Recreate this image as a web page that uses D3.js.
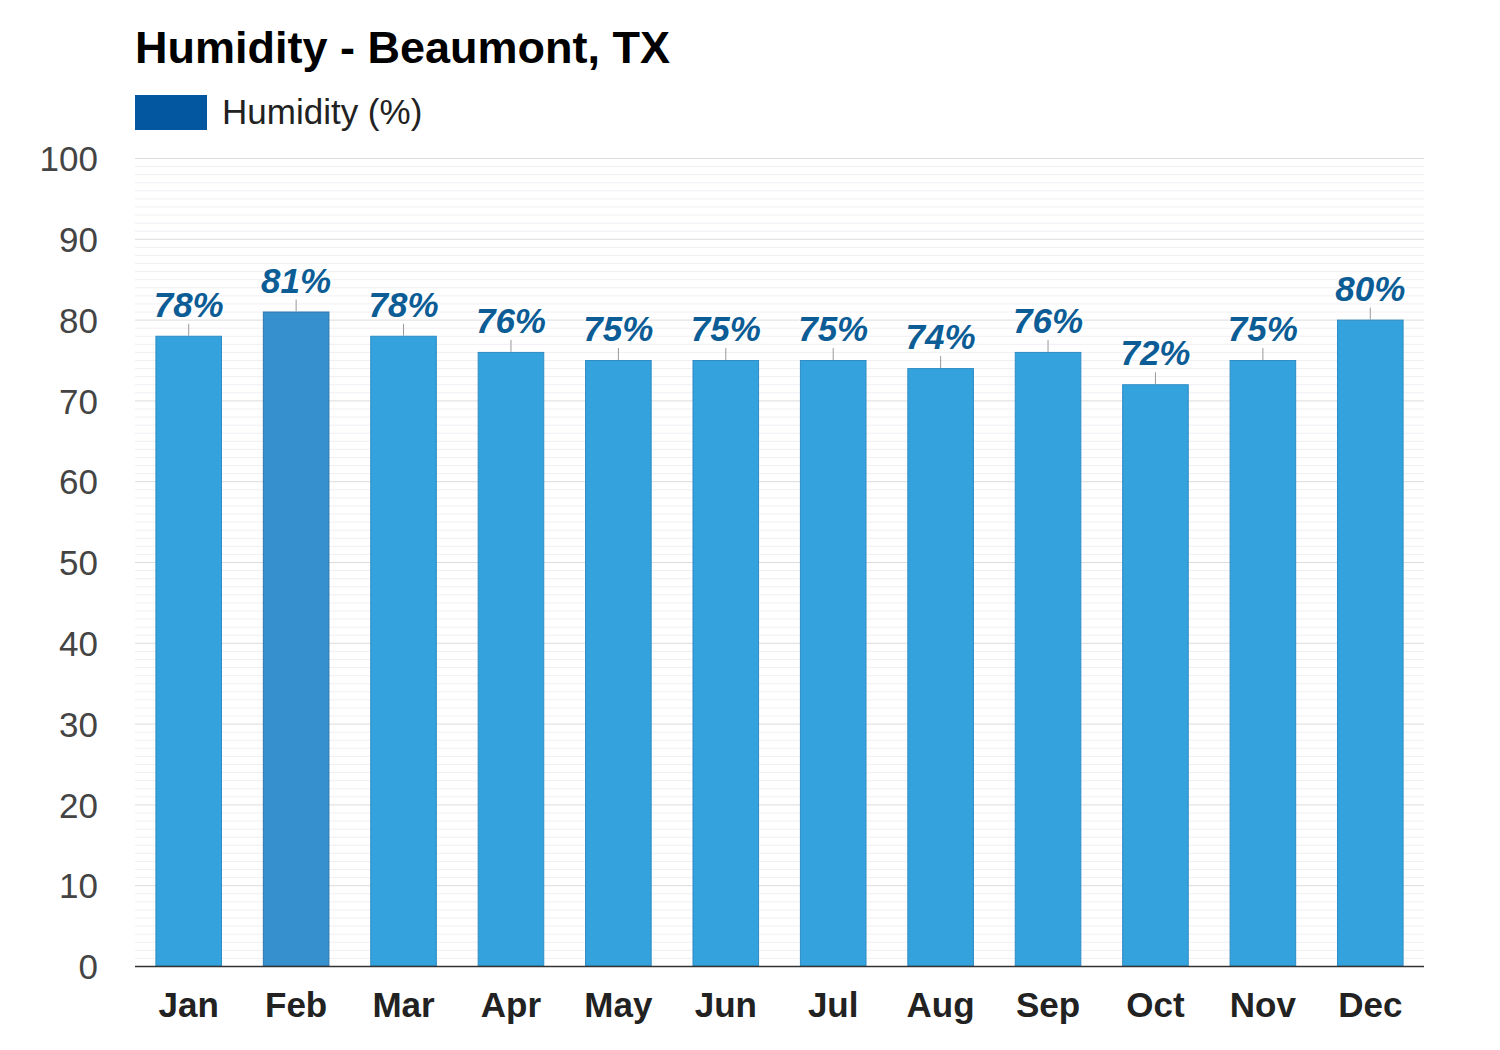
<!DOCTYPE html>
<html>
<head>
<meta charset="utf-8">
<script src="https://cdn.jsdelivr.net/npm/d3@7"></script>
<style>
  body { margin: 0; background: #fff; }
  svg { font-family: "Liberation Sans", Arial, sans-serif; }
</style>
</head>
<body>
<div id="chart"></div>
<script>
// chart data
var months = ["Jan", "Feb", "Mar", "Apr", "May", "Jun", "Jul", "Aug", "Sep", "Oct", "Nov", "Dec"];
var humidity = [78, 81, 78, 76, 75, 75, 75, 74, 76, 72, 75, 80];
var yTicks = [0, 10, 20, 30, 40, 50, 60, 70, 80, 90, 100];
var highlighted = "Feb";

var W = 1500, H = 1050;
var margin = {left: 135, right: 76, top: 158, bottom: 84};

var svg = d3.select("#chart").append("svg")
    .attr("width", W).attr("height", H);

var x = d3.scaleBand().domain(months)
    .range([margin.left, W - margin.right])
    .paddingInner(0.38).paddingOuter(0.19);
var y = d3.scaleLinear().domain([0, 100])
    .range([H - margin.bottom, margin.top]);

// minor grid, one line per unit
svg.append("g").selectAll("line")
    .data(d3.range(1, 101).filter(function(v){ return v % 10 != 0; }))
    .join("line")
    .attr("x1", margin.left).attr("x2", W - margin.right)
    .attr("y1", function(d){ return y(d) + 0.5; })
    .attr("y2", function(d){ return y(d) + 0.5; })
    .attr("stroke", "#f1eef4").attr("stroke-width", 1);

// major grid
svg.append("g").selectAll("line")
    .data(yTicks.slice(1))
    .join("line")
    .attr("x1", margin.left).attr("x2", W - margin.right)
    .attr("y1", function(d){ return y(d) + 0.5; })
    .attr("y2", function(d){ return y(d) + 0.5; })
    .attr("stroke", "#dcdcdc").attr("stroke-width", 1);

// y axis labels
var yAxis = svg.append("g")
    .attr("transform", "translate(" + margin.left + ",0)")
    .call(d3.axisLeft(y).tickValues(yTicks).tickSize(0).tickPadding(37));
yAxis.select(".domain").remove();
yAxis.selectAll("text")
    .attr("font-size", 35).attr("fill", "#444")
    .attr("font-family", "Liberation Sans, Arial, sans-serif")
    .attr("dy", "0.36em");

// bars
svg.append("g").selectAll("rect")
    .data(months)
    .join("rect")
    .attr("x", function(d){ return x(d) + 0.5; })
    .attr("y", function(d, i){ return y(humidity[i]) + 0.5; })
    .attr("width", x.bandwidth() - 1)
    .attr("height", function(d, i){ return y(0) - y(humidity[i]) - 0.5; })
    .attr("fill", function(d){ return d == highlighted ? "#3590cd" : "#34a2dc"; })
    .attr("stroke", function(d){ return d == highlighted ? "#2c76ad" : "#2f8cc4"; })
    .attr("stroke-width", 1);

// leader lines
svg.append("g").selectAll("line")
    .data(months)
    .join("line")
    .attr("x1", function(d){ return x(d) + x.bandwidth() / 2; })
    .attr("x2", function(d){ return x(d) + x.bandwidth() / 2; })
    .attr("y1", function(d, i){ return y(humidity[i]); })
    .attr("y2", function(d, i){ return y(humidity[i]) - 12; })
    .attr("stroke", "#999").attr("stroke-width", 1);

// value labels
svg.append("g").selectAll("text")
    .data(months)
    .join("text")
    .attr("x", function(d){ return x(d) + x.bandwidth() / 2; })
    .attr("y", function(d, i){ return y(humidity[i]) - 19; })
    .attr("text-anchor", "middle")
    .attr("font-size", 35).attr("font-weight", "bold").attr("font-style", "italic")
    .attr("fill", "#0c5d96")
    .attr("stroke", "#fff").attr("stroke-width", 3).attr("paint-order", "stroke")
    .text(function(d, i){ return humidity[i] + "%"; });

// x axis
svg.append("line")
    .attr("x1", margin.left).attr("x2", W - margin.right)
    .attr("y1", y(0) + 0.5).attr("y2", y(0) + 0.5)
    .attr("stroke", "#333").attr("stroke-width", 1.5);

svg.append("g").selectAll("text")
    .data(months)
    .join("text")
    .attr("x", function(d){ return x(d) + x.bandwidth() / 2; })
    .attr("y", 1017)
    .attr("text-anchor", "middle")
    .attr("font-size", 35).attr("font-weight", "bold")
    .attr("fill", "#222")
    .text(function(d){ return d; });

// title
svg.append("text")
    .attr("x", 135).attr("y", 63)
    .attr("font-size", 45).attr("font-weight", "bold").attr("fill", "#000")
    .text("Humidity - Beaumont, TX");

// legend
svg.append("rect")
    .attr("x", 135).attr("y", 95).attr("width", 72).attr("height", 35)
    .attr("fill", "#0257a0");
svg.append("text")
    .attr("x", 222).attr("y", 124)
    .attr("font-size", 35).attr("fill", "#222")
    .text("Humidity (%)");
</script>
</body>
</html>
